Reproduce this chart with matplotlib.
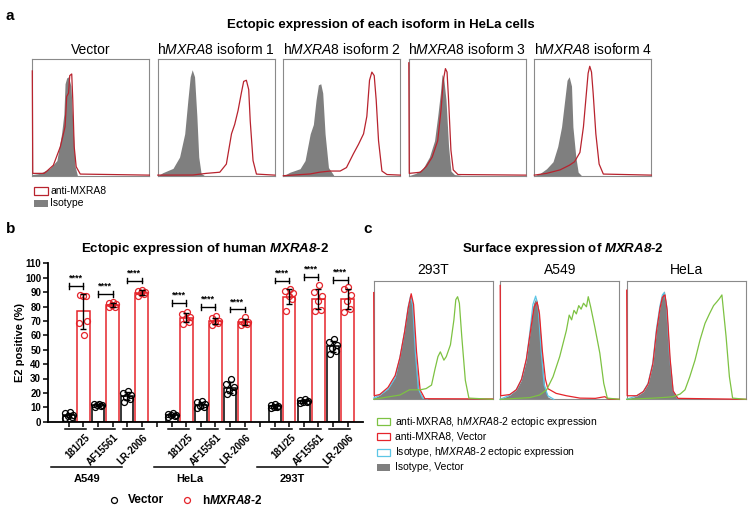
import numpy as np
import matplotlib.pyplot as plt
from matplotlib.patches import Rectangle
from matplotlib.lines import Line2D

W, H = 754, 509
plt.rcParams['font.family'] = ['Liberation Sans', 'DejaVu Sans']
plt.rcParams['mathtext.fontset'] = 'custom'
plt.rcParams['mathtext.rm'] = 'Liberation Sans'
plt.rcParams['mathtext.it'] = 'Liberation Sans:italic'
plt.rcParams['mathtext.bf'] = 'Liberation Sans:bold'
plt.rcParams['mathtext.bfit'] = 'Liberation Sans:italic:bold'

# ---------------- panel a: histograms (x, y as fraction of the box) ----------------
a_titles = ['Vector', 'h$\\mathit{MXRA8}$ isoform 1', 'h$\\mathit{MXRA8}$ isoform 2',
            'h$\\mathit{MXRA8}$ isoform 3', 'h$\\mathit{MXRA8}$ isoform 4']

a_iso_x = [
    [0, 0.066, 0.15, 0.21, 0.25, 0.27, 0.28, 0.294, 0.31, 0.33, 0.35, 0.366, 0.386],
    [0, 0.043, 0.13, 0.186, 0.23, 0.257, 0.277, 0.294, 0.314, 0.334, 0.35, 0.37, 0.40],
    [0, 0.057, 0.143, 0.186, 0.23, 0.257, 0.28, 0.30, 0.32, 0.337, 0.357, 0.386, 0.43],
    [0, 0.06, 0.12, 0.176, 0.22, 0.247, 0.27, 0.284, 0.298, 0.318, 0.34, 0.36, 0.39, 0.46],
    [0, 0.05, 0.105, 0.16, 0.20, 0.233, 0.26, 0.28, 0.298, 0.318, 0.33, 0.355, 0.375, 0.40],
]
a_iso_y = [
    [0.01, 0.02, 0.063, 0.13, 0.36, 0.53, 0.79, 0.84, 0.85, 0.77, 0.39, 0.08, 0.0],
    [0.0, 0.026, 0.063, 0.16, 0.36, 0.65, 0.85, 0.91, 0.85, 0.51, 0.16, 0.02, 0.0],
    [0.0, 0.03, 0.06, 0.13, 0.36, 0.44, 0.65, 0.78, 0.79, 0.71, 0.36, 0.07, 0.005],
    [0.0, 0.02, 0.06, 0.16, 0.30, 0.51, 0.71, 0.87, 0.84, 0.65, 0.25, 0.04, 0.01, 0.0],
    [0.0, 0.02, 0.06, 0.12, 0.25, 0.42, 0.65, 0.82, 0.85, 0.77, 0.42, 0.16, 0.03, 0.005],
]
a_anti_x = [
    [0, 0.004, 0.10, 0.12, 0.18, 0.24, 0.28, 0.294, 0.31, 0.32, 0.337, 0.346, 0.358, 0.375, 0.41, 1.0],
    [0, 0.30, 0.414, 0.53, 0.586, 0.63, 0.657, 0.686, 0.714, 0.734, 0.757, 0.777, 0.79, 0.814, 0.843, 1.0],
    [0, 0.23, 0.31, 0.40, 0.486, 0.54, 0.60, 0.643, 0.686, 0.714, 0.737, 0.757, 0.777, 0.794, 0.814, 0.843, 0.886, 1.0],
    [0, 0.004, 0.10, 0.15, 0.20, 0.247, 0.275, 0.295, 0.313, 0.327, 0.34, 0.36, 0.38, 0.42, 1.0],
    [0, 0.105, 0.22, 0.30, 0.344, 0.39, 0.42, 0.44, 0.46, 0.474, 0.489, 0.503, 0.526, 0.554, 0.59, 1.0],
]
a_anti_y = [
    [0.90, 0.02, 0.02, 0.035, 0.09, 0.25, 0.42, 0.68, 0.71, 0.86, 0.874, 0.65, 0.25, 0.077, 0.014, 0.005],
    [0.005, 0.006, 0.02, 0.03, 0.10, 0.36, 0.44, 0.56, 0.71, 0.81, 0.82, 0.74, 0.47, 0.13, 0.014, 0.005],
    [0.0, 0.015, 0.03, 0.04, 0.04, 0.07, 0.19, 0.27, 0.36, 0.51, 0.82, 0.89, 0.86, 0.65, 0.30, 0.04, 0.01, 0.005],
    [0.97, 0.02, 0.03, 0.08, 0.16, 0.30, 0.56, 0.82, 0.92, 0.89, 0.65, 0.22, 0.05, 0.01, 0.005],
    [0.005, 0.02, 0.05, 0.09, 0.12, 0.20, 0.42, 0.65, 0.88, 0.94, 0.89, 0.71, 0.36, 0.10, 0.014, 0.005],
]

# ---------------- panel b: flow positivity (%) ----------------
cells = ['A549', 'HeLa', '293T']
antibodies = ['181/25', 'AF15561', 'LR-2006']
vector_pts = [
    [2.5, 3.5, 4.0, 5.0, 6.0, 6.5],
    [10.5, 11.0, 11.5, 11.5, 12.0, 12.5],
    [13.5, 16.0, 17.0, 18.5, 20.0, 21.5],
    [3.5, 4.0, 4.5, 5.0, 5.5, 6.0],
    [9.5, 10.0, 11.0, 12.0, 13.5, 14.5],
    [19.0, 20.5, 22.0, 24.0, 26.5, 29.5],
    [9.5, 10.0, 10.5, 11.0, 11.5, 12.5],
    [13.0, 13.5, 14.0, 14.5, 15.0, 16.0],
    [47.0, 49.0, 51.5, 53.0, 55.5, 57.5],
]
mxra8_pts = [
    [88.0, 87.5, 87.0, 70.0, 68.5, 60.0],
    [79.5, 80.0, 81.0, 82.0, 82.5, 83.0],
    [87.5, 88.5, 89.5, 90.0, 91.0, 91.5],
    [68.0, 69.5, 71.0, 73.0, 75.0, 76.0],
    [67.5, 68.5, 69.0, 70.0, 72.0, 73.5],
    [67.5, 68.0, 68.5, 69.0, 70.0, 72.5],
    [77.0, 85.0, 87.0, 89.5, 91.0, 92.0],
    [77.0, 77.5, 84.0, 87.5, 90.0, 95.0],
    [76.0, 78.5, 84.0, 88.0, 92.0, 93.5],
]
bracket_y = [94, 88.5, 98, 82.5, 79.5, 78, 98, 100.5, 98.5]
sig_labels = ['****'] * 9

# ---------------- panel c: histograms ----------------
c_titles = ['293T', 'A549', 'HeLa']
c_isovec_x = [
    [0, 0.05, 0.12, 0.18, 0.22, 0.26, 0.29, 0.312, 0.33, 0.35, 0.38, 0.416, 0.45],
    [0, 0.08, 0.135, 0.177, 0.22, 0.253, 0.28, 0.303, 0.326, 0.35, 0.374, 0.40, 0.44],
    [0, 0.084, 0.14, 0.18, 0.22, 0.25, 0.28, 0.30, 0.317, 0.336, 0.36, 0.384, 0.42],
]
c_isovec_y = [
    [0.01, 0.036, 0.09, 0.19, 0.36, 0.58, 0.78, 0.88, 0.78, 0.39, 0.08, 0.01, 0.0],
    [0.0, 0.036, 0.08, 0.16, 0.33, 0.58, 0.81, 0.86, 0.75, 0.39, 0.11, 0.02, 0.0],
    [0.0, 0.028, 0.064, 0.13, 0.30, 0.58, 0.78, 0.89, 0.915, 0.78, 0.36, 0.08, 0.01],
]
c_isomx_x = [
    [0, 0.05, 0.12, 0.18, 0.22, 0.26, 0.29, 0.31, 0.328, 0.35, 0.375, 0.41, 0.45],
    [0, 0.08, 0.135, 0.177, 0.22, 0.25, 0.275, 0.298, 0.32, 0.345, 0.37, 0.40, 0.45],
    [0, 0.084, 0.14, 0.18, 0.22, 0.25, 0.28, 0.30, 0.315, 0.335, 0.36, 0.39, 0.43],
]
c_isomx_y = [
    [0.01, 0.035, 0.085, 0.18, 0.35, 0.57, 0.78, 0.87, 0.79, 0.40, 0.09, 0.012, 0.0],
    [0.0, 0.035, 0.08, 0.16, 0.33, 0.57, 0.80, 0.87, 0.76, 0.40, 0.12, 0.03, 0.0],
    [0.0, 0.03, 0.066, 0.135, 0.31, 0.59, 0.79, 0.88, 0.90, 0.79, 0.37, 0.07, 0.005],
]
c_antivec_x = [
    [0, 0.004, 0.05, 0.12, 0.18, 0.22, 0.26, 0.29, 0.315, 0.335, 0.36, 0.39, 0.43, 1.0],
    [0, 0.004, 0.08, 0.135, 0.18, 0.22, 0.255, 0.285, 0.31, 0.33, 0.355, 0.38, 0.40,
     0.47, 0.556, 0.67, 0.80, 0.85, 0.88, 0.907, 1.0],
    [0, 0.004, 0.084, 0.14, 0.18, 0.22, 0.25, 0.28, 0.30, 0.322, 0.34, 0.365, 0.39, 0.43, 1.0],
]
c_antivec_y = [
    [0.90, 0.03, 0.04, 0.10, 0.20, 0.35, 0.57, 0.77, 0.89, 0.80, 0.40, 0.08, 0.005, 0.003],
    [0.96, 0.03, 0.04, 0.08, 0.17, 0.34, 0.58, 0.78, 0.82, 0.72, 0.40, 0.17, 0.09,
     0.05, 0.03, 0.01, 0.008, 0.017, 0.022, 0.003, 0.0],
    [0.92, 0.03, 0.03, 0.065, 0.13, 0.30, 0.57, 0.77, 0.86, 0.88, 0.75, 0.34, 0.07, 0.008, 0.0],
]
c_antimx_x = [
    [0, 0.22, 0.30, 0.39, 0.44, 0.486, 0.514, 0.54, 0.56, 0.59, 0.61, 0.645, 0.674, 0.69,
     0.705, 0.72, 0.74, 0.77, 0.80, 1.0],
    [0, 0.247, 0.33, 0.39, 0.444, 0.50, 0.528, 0.556, 0.58, 0.60, 0.62, 0.64, 0.66, 0.68,
     0.70, 0.725, 0.74, 0.76, 0.795, 0.837, 0.87, 0.90, 1.0],
    [0, 0.224, 0.336, 0.39, 0.45, 0.49, 0.53, 0.574, 0.616, 0.658, 0.695, 0.73, 0.756,
     0.78, 0.80, 0.81, 0.835, 0.863, 0.89, 1.0],
]
c_antimx_y = [
    [0.0, 0.036, 0.08, 0.08, 0.09, 0.12, 0.25, 0.36, 0.40, 0.33, 0.36, 0.46, 0.67, 0.84,
     0.865, 0.81, 0.53, 0.16, 0.01, 0.0],
    [0.0, 0.014, 0.036, 0.08, 0.19, 0.36, 0.47, 0.58, 0.71, 0.67, 0.75, 0.72, 0.79, 0.76,
     0.81, 0.78, 0.865, 0.78, 0.61, 0.39, 0.135, 0.01, 0.0],
    [0.0, 0.01, 0.017, 0.022, 0.045, 0.08, 0.19, 0.33, 0.50, 0.64, 0.72, 0.79, 0.82,
     0.85, 0.88, 0.78, 0.53, 0.19, 0.01, 0.0],
]

c_legend = ['anti-MXRA8, h$\\mathit{MXRA8}$-2 ectopic expression',
            'anti-MXRA8, Vector',
            'Isotype, h$\\mathit{MXRA8}$-2 ectopic expression',
            'Isotype, Vector']

GRAY = '#7f7f7f'
DARKRED = '#b8232e'
RED = '#e5242b'
GREEN = '#7dc242'
CYAN = '#5cc6e6'
FRAME = '#8a8a8a'

fig = plt.figure(figsize=(W / 100, H / 100), dpi=100)


def px_axes(x0, y0, x1, y1):
    return fig.add_axes([x0 / W, 1 - y1 / H, (x1 - x0) / W, (y1 - y0) / H])


def ftext(x, y, s, **kw):
    return fig.text(x / W, 1 - y / H, s, **kw)


def hist_box(ax):
    ax.set_xlim(0, 1)
    ax.set_ylim(0, 1)
    ax.set_xticks([])
    ax.set_yticks([])
    for sp in ax.spines.values():
        sp.set_color(FRAME)
        sp.set_linewidth(0.8)


# panel labels and titles
ftext(6, 19.5, 'a', fontsize=11, fontweight='bold')
ftext(6, 233, 'b', fontsize=11, fontweight='bold')
ftext(363, 233, 'c', fontsize=11, fontweight='bold')
ftext(381, 28.3, 'Ectopic expression of each isoform in HeLa cells',
      fontsize=9.5, fontweight='bold', ha='center')
ftext(205, 252.3, 'Ectopic expression of human $\\mathbfit{MXRA8}$-2',
      fontsize=9.5, fontweight='bold', ha='center')
ftext(562.5, 252.3, 'Surface expression of $\\mathbfit{MXRA8}$-2',
      fontsize=9.5, fontweight='bold', ha='center')

# ---------- panel a ----------
for i in range(5):
    x0 = 32.3 + i * 125.5
    ax = px_axes(x0, 59.3, x0 + 117, 175.7)
    hist_box(ax)
    ax.fill_between(a_iso_x[i], a_iso_y[i], color=GRAY, lw=0, zorder=2)
    ax.plot(a_anti_x[i], a_anti_y[i], color=DARKRED, lw=0.9, zorder=3, clip_on=False)
    ftext(x0 + 58.5, 54, a_titles[i], fontsize=10, ha='center')

fig.add_artist(Rectangle((33.5 / W, 1 - 194.5 / H), 14 / W, 7 / H, transform=fig.transFigure,
                         facecolor='white', edgecolor=DARKRED, lw=0.9))
fig.add_artist(Rectangle((33.5 / W, 1 - 207 / H), 14 / W, 7 / H, transform=fig.transFigure,
                         facecolor=GRAY, edgecolor='none'))
ftext(50, 191, 'anti-MXRA8', fontsize=7.5, va='center')
ftext(50, 203.5, 'Isotype', fontsize=7.5, va='center')

# ---------- panel b ----------
axb = px_axes(48, 263.3, 363, 421.7)
unit = 12.4
x_first = 68.9
axb.set_xlim((48 - x_first) / unit, (363 - x_first) / unit)
axb.set_ylim(0, 110)

jitter = [-0.28, 0.22, -0.06, 0.3, -0.32, 0.06]
red_off = 1.17
vec_x, red_x = [], []
for g in range(3):
    for a in range(3):
        vec_x.append(g * 8.3 + a * 2.35)
for k in range(9):
    red_x.append(vec_x[k] + red_off)

for k in range(9):
    for xs, pts, col in ((vec_x[k], vector_pts[k], 'black'), (red_x[k], mxra8_pts[k], RED)):
        m = np.mean(pts)
        sd = np.std(pts, ddof=1)
        axb.bar(xs, m, width=1.0, facecolor='white', edgecolor=col, lw=1.1, zorder=2)
        axb.plot(xs + np.array(jitter), pts, 'o', ms=4.3, mfc='none', mec=col, mew=0.9,
                 zorder=4, clip_on=False)
        axb.errorbar(xs, m, yerr=sd, fmt='none', ecolor='black', elinewidth=1,
                     capsize=2.5, capthick=1, zorder=5)
    yb = bracket_y[k]
    axb.plot([vec_x[k], red_x[k]], [yb, yb], color='black', lw=1, zorder=5, clip_on=False)
    for xe in (vec_x[k], red_x[k]):
        axb.plot([xe, xe], [yb - 2, yb + 2], color='black', lw=1, zorder=5, clip_on=False)
    axb.text((vec_x[k] + red_x[k]) / 2, yb + 2.3, sig_labels[k], fontsize=6.5,
             fontweight='bold', ha='center', va='bottom')

    # pair underline and rotated antibody label
    axb.plot([vec_x[k] - 0.3, red_x[k] + 0.2], [-5.1, -5.1], color='black', lw=1.1,
             clip_on=False)
    axb.text(red_x[k] + 0.1, -7.5, antibodies[k % 3], fontsize=7, fontweight='bold',
             rotation=45, rotation_mode='anchor', ha='right', va='top')

for g in range(3):
    xa = vec_x[g * 3] - 1.45
    xb = vec_x[g * 3 + 2] - 0.4
    axb.plot([xa, xb], [-31.2, -31.2], color='black', lw=1.1, clip_on=False)
    axb.text((xa + xb) / 2, -40, cells[g], fontsize=8, fontweight='bold',
             ha='center', va='center')

gap_ticks = [(red_x[2] + vec_x[3]) / 2, (red_x[5] + vec_x[6]) / 2]
axb.set_xticks(sorted(vec_x + red_x + gap_ticks))
axb.set_xticklabels([])
axb.set_yticks(np.arange(0, 111, 10))
axb.set_yticklabels([str(v) for v in range(0, 111, 10)], fontsize=7, fontweight='bold')
axb.tick_params(width=1.1, length=3.5, pad=1.5)
axb.spines['top'].set_visible(False)
axb.spines['right'].set_visible(False)
axb.spines['left'].set_linewidth(1.3)
axb.spines['bottom'].set_linewidth(1.3)
axb.set_ylabel('E2 positive (%)', fontsize=8, fontweight='bold', labelpad=1)
axb.yaxis.set_label_coords((25 - 48) / 315, 0.5)

fig.add_artist(Line2D([114 / W], [1 - 500 / H], marker='o', ms=4.3, mfc='none', mec='black',
                      mew=0.9, transform=fig.transFigure))
fig.add_artist(Line2D([186.7 / W], [1 - 500 / H], marker='o', ms=4.3, mfc='none', mec=RED,
                      mew=0.9, transform=fig.transFigure))
ftext(128, 500, 'Vector', fontsize=8.5, fontweight='bold', va='center')
ftext(202, 500, 'h$\\mathbfit{MXRA8}$-2', fontsize=8.5, fontweight='bold', va='center')

# ---------- panel c ----------
for i in range(3):
    x0 = 373.7 + i * 126.5
    ax = px_axes(x0, 280.7, x0 + 119, 399.3)
    hist_box(ax)
    ax.fill_between(c_isovec_x[i], c_isovec_y[i], color=GRAY, lw=0, zorder=2)
    ax.plot(c_isomx_x[i], c_isomx_y[i], color=CYAN, lw=0.9, zorder=3, clip_on=False)
    ax.plot(c_antivec_x[i], c_antivec_y[i], color=RED, lw=0.9, zorder=4, clip_on=False)
    ax.plot(c_antimx_x[i], c_antimx_y[i], color=GREEN, lw=0.9, zorder=5, clip_on=False)
    ftext(x0 + 59.5, 274.5, c_titles[i], fontsize=10, ha='center')

legend_style = [dict(facecolor='white', edgecolor=GREEN), dict(facecolor='white', edgecolor=RED),
                dict(facecolor='white', edgecolor=CYAN), dict(facecolor=GRAY, edgecolor='none')]
for j, lab in enumerate(c_legend):
    yc = 421.7 + j * 15.2
    fig.add_artist(Rectangle((377 / W, 1 - (yc + 3.5) / H), 13 / W, 7 / H,
                             transform=fig.transFigure, lw=0.9, **legend_style[j]))
    ftext(395, yc, lab, fontsize=7.5, va='center')

fig.savefig('out.png', dpi=100)
